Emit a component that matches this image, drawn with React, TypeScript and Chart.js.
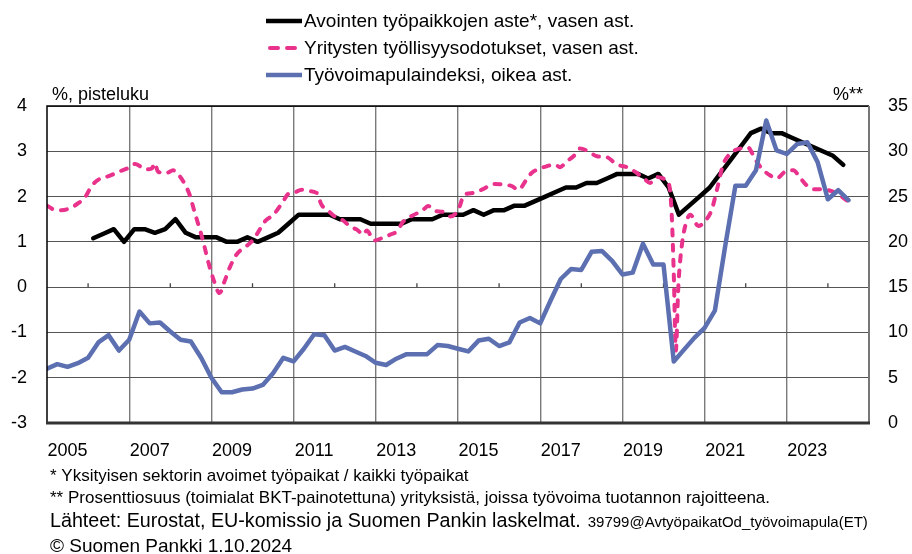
import { useEffect, useRef } from 'react';
import { Chart, registerables } from 'chart.js';

Chart.register(...registerables);

const FONT = '"Liberation Sans", Arial, Helvetica, sans-serif';

// ---- Axis labels / ticks ----
const yearLabels = [2005, 2007, 2009, 2011, 2013, 2015, 2017, 2019, 2021, 2023];
const minorTickYears = [2006, 2008, 2010, 2012, 2014, 2016, 2018, 2020, 2022, 2024];
const xRange = [2005, 2025];
const leftRange = [-3, 4];
const rightRange = [0, 35];

// ---- Series names ----
const seriesNames = [
  'Avointen työpaikkojen aste*, vasen ast.',
  'Yritysten työllisyysodotukset, vasen ast.',
  'Työvoimapulaindeksi, oikea ast.',
];

// ---- Black: job vacancy rate (%), quarterly 2006Q1–2024Q2 ----
const vacancyStartYear = 2006;
const vacancyRate = [
  1.08, 1.18, 1.28, 1.0,
  1.28, 1.28, 1.2, 1.28,
  1.5, 1.2, 1.1, 1.1,
  1.1, 1.0, 1.0, 1.1,
  1.0, 1.1, 1.2, 1.4,
  1.6, 1.6, 1.6, 1.6,
  1.5, 1.5, 1.5, 1.4,
  1.4, 1.4, 1.4, 1.5,
  1.5, 1.5, 1.6, 1.6,
  1.6, 1.7, 1.6, 1.7,
  1.7, 1.8, 1.8, 1.9,
  2.0, 2.1, 2.2, 2.2,
  2.3, 2.3, 2.4, 2.5,
  2.5, 2.5, 2.4, 2.5,
  2.2, 1.6, 1.8, 2.0,
  2.2, 2.5, 2.8, 3.1,
  3.4, 3.5, 3.4, 3.4,
  3.3, 3.2, 3.1, 3.0,
  2.9, 2.7,
];

// ---- Blue: labour shortage index (% of firms), quarterly 2005Q1–2024Q3 ----
const shortageStartYear = 2005;
const shortageIndex = [
  6.0, 6.5, 6.2, 6.6,
  7.2, 8.9, 9.7, 8.0,
  9.2, 12.3, 11.0, 11.1,
  10.1, 9.2, 9.0, 7.2,
  5.0, 3.4, 3.4, 3.7,
  3.8, 4.2, 5.5, 7.2,
  6.8, 8.2, 9.8, 9.7,
  8.0, 8.4, 7.9, 7.4,
  6.65, 6.4, 7.1, 7.6,
  7.6, 7.6, 8.6, 8.5,
  8.2, 7.9, 9.1, 9.3,
  8.5, 8.9, 11.1, 11.6,
  11.0, 13.5, 15.9, 17.0,
  16.9, 18.9, 19.0, 17.9,
  16.4, 16.6, 19.8, 17.5,
  17.5, 6.8, 8.1, 9.4,
  10.5, 12.4, 19.5, 26.2,
  26.2, 27.9, 33.4, 30.1,
  29.7, 30.8, 31.0, 28.8,
  24.7, 25.7, 24.6,
];

// ---- Pink: employment expectations (points), read at irregular dates ----
const expectDates = [
  2005.0, 2005.15, 2005.35, 2005.6, 2005.8, 2005.9, 2006.1, 2006.3, 2006.5, 2006.75,
  2006.95, 2007.15, 2007.4, 2007.55, 2007.62, 2007.7, 2007.9, 2008.07, 2008.23, 2008.35,
  2008.47, 2008.59, 2008.71, 2008.8, 2008.92, 2009.04, 2009.2, 2009.32, 2009.44, 2009.61,
  2009.77, 2009.94, 2010.1, 2010.3, 2010.51, 2010.75, 2010.87, 2010.99, 2011.2, 2011.36,
  2011.56, 2011.68, 2011.85, 2012.05, 2012.21, 2012.37, 2012.54, 2012.7, 2012.78, 2012.96,
  2013.14, 2013.35, 2013.51, 2013.67, 2013.91, 2014.12, 2014.28, 2014.44, 2014.64, 2014.81,
  2015.01, 2015.15, 2015.37, 2015.62, 2015.86, 2016.06, 2016.31, 2016.47, 2016.67, 2016.79,
  2016.99, 2017.16, 2017.36, 2017.48, 2017.65, 2017.81, 2017.97, 2018.17, 2018.38, 2018.62,
  2018.86, 2019.11, 2019.35, 2019.55, 2019.67, 2019.84, 2020.04, 2020.14, 2020.2, 2020.25,
  2020.3, 2020.36, 2020.45, 2020.56, 2020.65, 2020.85, 2021.0, 2021.17, 2021.3, 2021.45,
  2021.65, 2021.86, 2022.06, 2022.22, 2022.39, 2022.59, 2022.75, 2022.96, 2023.16, 2023.32,
  2023.48, 2023.68, 2023.89, 2024.09, 2024.29, 2024.45, 2024.62,
];
const expectValues = [
  1.8, 1.72, 1.7, 1.76, 1.88, 1.95, 2.25, 2.4, 2.45, 2.55,
  2.62, 2.72, 2.6, 2.62, 2.74, 2.55, 2.52, 2.58, 2.45, 2.28,
  2.04, 1.66, 1.3, 1.01, 0.57, 0.2, -0.13, 0.13, 0.42, 0.72,
  0.86, 0.97, 1.16, 1.45, 1.6, 1.9, 2.06, 2.08, 2.15, 2.12,
  2.08, 1.82, 1.68, 1.53, 1.47, 1.34, 1.27, 1.16, 1.25, 1.03,
  1.08, 1.16, 1.23, 1.45, 1.59, 1.68, 1.79, 1.68, 1.66, 1.56,
  1.71, 2.04, 2.08, 2.17, 2.28, 2.27, 2.23, 2.15, 2.38, 2.52,
  2.62, 2.67, 2.71, 2.65, 2.78, 2.89, 3.06, 3.0, 2.89, 2.87,
  2.71, 2.65, 2.52, 2.38, 2.3, 2.43, 2.38, 2.25, 1.6, 0.3,
  -1.4, 0.0, 0.95, 1.45, 1.6, 1.35, 1.45, 1.7, 2.15, 2.7,
  2.97, 3.06, 3.08, 2.84, 2.62, 2.47, 2.4, 2.55, 2.58, 2.42,
  2.25, 2.16, 2.16, 2.12, 2.03, 1.92, 1.88,
];

// ---- Texts ----
const leftAxisTitle = '%, pisteluku';
const rightAxisTitle = '%**';
const footnote1 = '* Yksityisen sektorin avoimet työpaikat / kaikki työpaikat';
const footnote2 = '** Prosenttiosuus (toimialat BKT-painotettuna) yrityksistä, joissa työvoima tuotannon rajoitteena.';
const sourceText = 'Lähteet: Eurostat, EU-komissio ja Suomen Pankin laskelmat.';
const codeText = '39799@AvtyöpaikatOd_työvoimapula(ET)';
const copyrightText = '© Suomen Pankki 1.10.2024';

const COLORS = {
  black: '#000000',
  pink: '#E8328C',
  blue: '#5B6FB1',
};

const decorPlugin = {
  id: 'decor',
  beforeDatasetsDraw(chart: any) {
    const { ctx } = chart;
    const xs = chart.scales.x;
    const ys = chart.scales.y;
    const y0 = ys.getPixelForValue(0);
    ctx.save();
    ctx.strokeStyle = '#444';
    ctx.lineWidth = 1.3;
    ctx.beginPath();
    for (const yr of minorTickYears) {
      const px = xs.getPixelForValue(yr);
      ctx.moveTo(px, y0 - 4);
      ctx.lineTo(px, y0);
    }
    ctx.stroke();
    ctx.restore();
  },
  afterDatasetsDraw(chart: any) {
    const { ctx, chartArea } = chart;
    const { left, right, top, bottom } = chartArea;
    ctx.save();
    ctx.lineCap = 'butt';
    ctx.strokeStyle = '#000';
    ctx.lineWidth = 1.5;
    ctx.beginPath();
    ctx.moveTo(left, bottom);
    ctx.lineTo(left, top);
    ctx.lineTo(right, top);
    ctx.stroke();
    ctx.strokeStyle = '#777';
    ctx.lineWidth = 2;
    ctx.beginPath();
    ctx.moveTo(right, top);
    ctx.lineTo(right, bottom);
    ctx.stroke();
    ctx.strokeStyle = '#333';
    ctx.lineWidth = 3;
    ctx.beginPath();
    ctx.moveTo(left - 1, bottom);
    ctx.lineTo(right + 1, bottom);
    ctx.stroke();
    ctx.restore();
  },
  afterDraw(chart: any) {
    const { ctx } = chart;
    ctx.save();
    ctx.fillStyle = '#000';
    ctx.textBaseline = 'middle';

    // Legend (vertical, centered top)
    const ds = chart.data.datasets;
    ds.forEach((d: any, i: number) => {
      const y = 21 + i * 27;
      ctx.save();
      ctx.strokeStyle = d.borderColor;
      ctx.lineWidth = d.borderWidth;
      ctx.lineCap = d.borderDash ? 'round' : 'butt';
      ctx.setLineDash(d.borderDash ? [8, 9] : []);
      ctx.beginPath();
      if (d.borderDash) {
        ctx.moveTo(270, y);
        ctx.lineTo(302, y);
      } else {
        ctx.moveTo(266, y);
        ctx.lineTo(302, y);
      }
      ctx.stroke();
      ctx.restore();
      ctx.font = `19px ${FONT}`;
      ctx.textAlign = 'left';
      ctx.fillText(d.label, 304, y + 1);
    });

    // Axis titles
    ctx.font = `18px ${FONT}`;
    ctx.textAlign = 'left';
    ctx.fillText(leftAxisTitle, 52, 95);
    ctx.textAlign = 'right';
    ctx.fillText(rightAxisTitle, 863, 95);

    // Footnotes
    ctx.textAlign = 'left';
    ctx.font = `17px ${FONT}`;
    ctx.fillText(footnote1, 50, 476);
    ctx.fillText(footnote2, 50, 498);
    ctx.font = `19.7px ${FONT}`;
    ctx.fillText(sourceText, 50, 522);
    const w = ctx.measureText(sourceText).width;
    ctx.font = `15px ${FONT}`;
    ctx.fillText(codeText, 50 + w + 7, 523);
    ctx.font = `19px ${FONT}`;
    ctx.fillText(copyrightText, 50, 547);
    ctx.restore();
  },
};

export default function App() {
  const ref = useRef<HTMLCanvasElement | null>(null);

  useEffect(() => {
    if (!ref.current) return;
    const vacancyPoints = vacancyRate.map((v, i) => ({ x: vacancyStartYear + (i + 0.5) / 4, y: v }));
    const shortagePoints = shortageIndex.map((v, i) => ({ x: shortageStartYear + i / 4, y: v }));
    const expectPoints = expectValues.map((v, i) => ({ x: expectDates[i], y: v }));

    const chart = new Chart(ref.current, {
      type: 'line',
      data: {
        datasets: [
          {
            label: seriesNames[0],
            data: vacancyPoints,
            borderColor: COLORS.black,
            backgroundColor: COLORS.black,
            borderWidth: 4.5,
            pointRadius: 0,
            tension: 0,
            borderJoinStyle: 'round',
            borderCapStyle: 'round',
            yAxisID: 'y',
            order: 3,
          },
          {
            label: seriesNames[1],
            data: expectPoints,
            borderColor: COLORS.pink,
            backgroundColor: COLORS.pink,
            borderWidth: 4,
            borderDash: [6, 9],
            borderCapStyle: 'round',
            borderJoinStyle: 'round',
            pointRadius: 0,
            cubicInterpolationMode: 'monotone',
            yAxisID: 'y',
            order: 2,
          },
          {
            label: seriesNames[2],
            data: shortagePoints,
            borderColor: COLORS.blue,
            backgroundColor: COLORS.blue,
            borderWidth: 4.5,
            pointRadius: 0,
            tension: 0,
            borderJoinStyle: 'round',
            borderCapStyle: 'round',
            yAxisID: 'y2',
            order: 1,
          },
        ] as any,
      },
      options: {
        responsive: false,
        animation: false,
        devicePixelRatio: 1,
        layout: { padding: { top: 106, left: 0, right: 0, bottom: 0 } },
        plugins: {
          legend: { display: false },
          tooltip: { enabled: false },
        },
        scales: {
          x: {
            type: 'linear',
            min: xRange[0],
            max: xRange[1],
            afterBuildTicks: (s: any) => {
              s.ticks = yearLabels.flatMap((y) => [{ value: y }, { value: y + 0.5 }]);
            },
            afterFit: (s: any) => {
              s.height = 131;
            },
            grid: {
              color: (c: any) =>
                c.tick && Number.isInteger(c.tick.value) && c.tick.value > xRange[0]
                  ? '#7a7a7a'
                  : 'rgba(0,0,0,0)',
              lineWidth: 1.4,
              drawTicks: false,
            },
            border: { display: false },
            ticks: {
              autoSkip: false,
              maxRotation: 0,
              minRotation: 0,
              padding: 17,
              color: '#000',
              font: { family: FONT, size: 18 },
              callback: (v: any) => (Number.isInteger(v) ? '' : String(Math.floor(v))),
            },
          },
          y: {
            type: 'linear',
            position: 'left',
            min: leftRange[0],
            max: leftRange[1],
            afterFit: (s: any) => {
              s.width = 47;
            },
            grid: { color: '#555', lineWidth: 1, drawTicks: false },
            border: { display: false },
            ticks: {
              stepSize: 1,
              padding: 20,
              color: '#000',
              font: { family: FONT, size: 18 },
            },
          },
          y2: {
            type: 'linear',
            position: 'right',
            min: rightRange[0],
            max: rightRange[1],
            afterFit: (s: any) => {
              s.width = 43;
            },
            grid: { display: false, drawTicks: false, drawOnChartArea: false },
            border: { display: false },
            ticks: {
              stepSize: 5,
              padding: 19,
              color: '#000',
              font: { family: FONT, size: 18 },
            },
          },
        },
      } as any,
      plugins: [decorPlugin],
    });
    return () => chart.destroy();
  }, []);

  return (
    <div style={{ position: 'absolute', left: 0, top: 0, width: 912, height: 554, background: '#fff' }}>
      <canvas ref={ref} width={912} height={554} style={{ width: 912, height: 554, display: 'block' }} />
    </div>
  );
}
